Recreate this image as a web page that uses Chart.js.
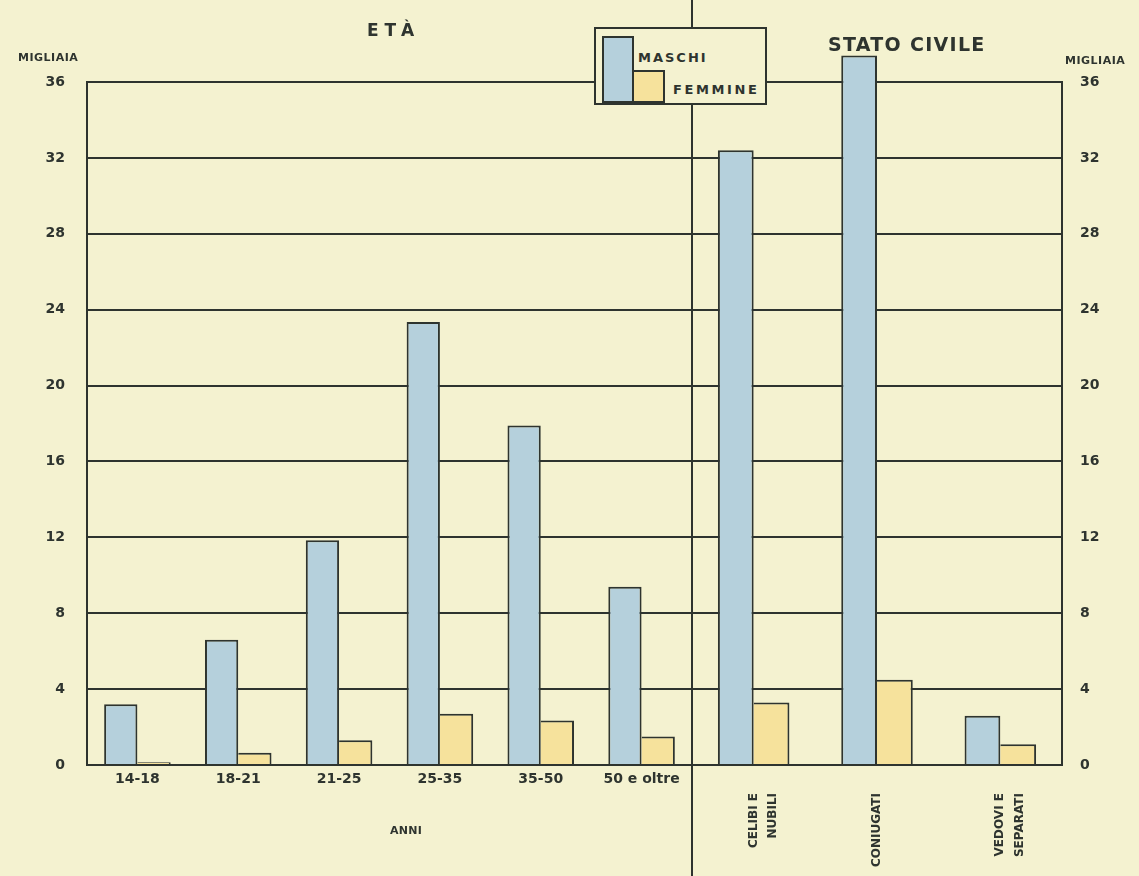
<!DOCTYPE html>
<html lang="it">
<head>
<meta charset="utf-8">
<title>Età e stato civile</title>
<script src="https://cdn.jsdelivr.net/npm/chart.js@4/dist/chart.umd.min.js"></script>
<style>
  html, body { margin: 0; padding: 0; }
  body {
    width: 1139px; height: 876px; position: relative; overflow: hidden;
    background: #f4f2d0;
    font-family: "DejaVu Sans", sans-serif; font-weight: bold; color: #2e342f;
  }
  canvas { position: absolute; top: 0; }
  #ageCanvas { left: 0; }
  #civilCanvas { left: 692px; }
  .lbl { position: absolute; white-space: nowrap; line-height: 1; }
  #legendBox {
    position: absolute; left: 594px; top: 27px; width: 169px; height: 74px;
    border: 2px solid #2e342f; background: #f4f2d0; z-index: 5;
  }
  .swatch { position: absolute; border: 2px solid #2e342f; box-sizing: border-box; }
</style>
</head>
<body>
<canvas id="ageCanvas" width="700" height="876"></canvas>
<canvas id="civilCanvas" width="447" height="876"></canvas>

<div class="lbl" style="left:18px; top:52px; font-size:11px; letter-spacing:0.5px;">MIGLIAIA</div>
<div class="lbl" style="left:1065px; top:55px; font-size:11px; letter-spacing:0.5px;">MIGLIAIA</div>
<div class="lbl" style="left:367px; top:22px; font-size:17px; letter-spacing:6px;">ETÀ</div>
<div class="lbl" style="left:828px; top:35px; font-size:19px; letter-spacing:1.3px;">STATO CIVILE</div>
<div class="lbl" style="left:390px; top:825px; font-size:11px; letter-spacing:0.3px;">ANNI</div>

<div id="legendBox">
  <div class="swatch" style="left:6px; top:7px; width:32px; height:67px; background:#b5d0dc;"></div>
  <div class="swatch" style="left:36px; top:41px; width:33px; height:33px; background:#f6e29c;"></div>
  <div class="lbl" style="left:42px; top:22px; font-size:13px; letter-spacing:2px;">MASCHI</div>
  <div class="lbl" style="left:77px; top:54px; font-size:13px; letter-spacing:2.6px;">FEMMINE</div>
</div>

<script>
// Iscritti, in migliaia, per classe di età e per stato civile
const ageCategories = ['14-18', '18-21', '21-25', '25-35', '35-50', '50 e oltre'];
const ageMaschi  = [3.2, 6.6, 11.85, 23.35, 17.9, 9.4];
const ageFemmine = [0.15, 0.65, 1.3, 2.7, 2.35, 1.5];

const civilCategories = [['CELIBI E', 'NUBILI'], 'CONIUGATI', ['VEDOVI E', 'SEPARATI']];
const civilMaschi  = [32.4, 37.4, 2.6];
const civilFemmine = [3.3, 4.5, 1.1];

const yMin = 0, yMax = 36, yStep = 4;

const INK = '#2e342f';
const BLUE = '#b5d0dc';
const YELLOW = '#f6e29c';

Chart.defaults.font.family = '"DejaVu Sans", sans-serif';
Chart.defaults.font.weight = 'bold';
Chart.defaults.color = INK;
Chart.defaults.animation = false;

const CHART_TOP = 82;
const CANVAS_H = 876;
const AREA_BOTTOM = 765;

// vertical divider between the two panels, running the full height of the page
const dividerPlugin = {
  id: 'divider',
  beforeDatasetsDraw(chart) {
    const { ctx, chartArea } = chart;
    ctx.save();
    ctx.strokeStyle = INK;
    ctx.lineWidth = 2;
    ctx.beginPath();
    ctx.moveTo(chartArea.right, 0);
    ctx.lineTo(chartArea.right, chart.height);
    ctx.stroke();
    ctx.restore();
  }
};

// male bar carries the shared middle edge, so the female bar skips its left border
function barSet(label, data, color, sharedEdge) {
  return {
    label, data,
    backgroundColor: color,
    borderColor: INK,
    borderWidth: sharedEdge ? { top: 2, right: 2, left: 0, bottom: 0 } : 2,
    borderSkipped: sharedEdge ? false : 'start',
    clip: false
  };
}

function yScale(position, width, pad) {
  return {
    position,
    min: yMin, max: yMax,
    ticks: { stepSize: yStep, padding: pad, font: { size: 14 }, color: INK },
    grid: { color: INK, lineWidth: 2, drawTicks: false },
    border: { display: true, color: INK, width: 2 },
    afterFit(s) { s.width = width; }
  };
}

function xScale(extraTicks) {
  return {
    grid: { display: false, drawTicks: false },
    border: { display: true, color: INK, width: 2 },
    ticks: Object.assign({ autoSkip: false, font: { size: 14 }, color: INK }, extraTicks),
    afterFit(s) { s.height = CANVAS_H - AREA_BOTTOM; }
  };
}

new Chart(document.getElementById('ageCanvas'), {
  type: 'bar',
  data: {
    labels: ageCategories,
    datasets: [
      barSet('MASCHI', ageMaschi, BLUE, false),
      barSet('FEMMINE', ageFemmine, YELLOW, true)
    ]
  },
  options: {
    responsive: false,
    layout: { padding: { top: CHART_TOP, right: 8, left: 0, bottom: 0 } },
    datasets: { bar: { barPercentage: 1, categoryPercentage: 0.66 } },
    plugins: { legend: { display: false }, tooltip: { enabled: false } },
    scales: {
      x: xScale({ padding: 6, maxRotation: 0, minRotation: 0 }),
      y: yScale('left', 87, 22)
    }
  },
  plugins: [dividerPlugin]
});

new Chart(document.getElementById('civilCanvas'), {
  type: 'bar',
  data: {
    labels: civilCategories,
    datasets: [
      barSet('MASCHI', civilMaschi, BLUE, false),
      barSet('FEMMINE', civilFemmine, YELLOW, true)
    ]
  },
  options: {
    responsive: false,
    layout: { padding: { top: CHART_TOP, right: 0, left: 0, bottom: 0 } },
    datasets: { bar: { barPercentage: 1, categoryPercentage: 0.58 } },
    plugins: { legend: { display: false }, tooltip: { enabled: false } },
    scales: {
      x: xScale({ padding: 28, maxRotation: 90, minRotation: 90, font: { size: 12, lineHeight: 1.6 } }),
      y: yScale('right', 77, 18)
    }
  }
});
</script>
</body>
</html>
